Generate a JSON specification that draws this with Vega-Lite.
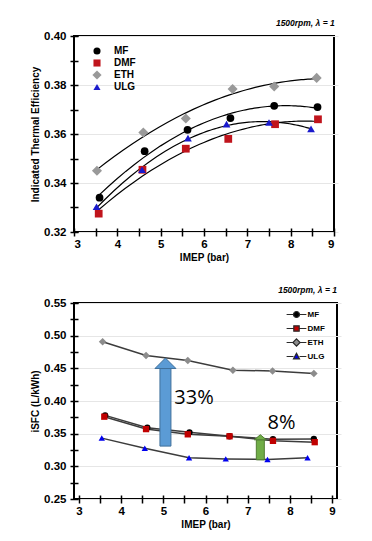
{
  "$schema": "https://vega.github.io/schema/vega-lite/v6.json",
  "padding": {"left": 29, "top": 17, "right": 5, "bottom": 5},
  "spacing": 20,
  "background": "white",
  "config": {
    "font": "Liberation Sans",
    "view": {"stroke": "black", "strokeWidth": 2},
    "axis": {"domain": false, "ticks": true, "tickColor": "black", "tickWidth": 1.5, "tickSize": 8, "offset": -4,
      "labelFont": "Liberation Sans", "labelFontWeight": "bold", "labelFontSize": 11.5, "labelColor": "black",
      "titleFont": "Liberation Sans", "titleFontWeight": "bold", "titleFontSize": 10, "titleColor": "black",
      "gridColor": "#e6e6e6", "gridWidth": 1, "labelOverlap": false},
    "title": {"fontSize": 8.5, "fontStyle": "italic", "fontWeight": "bold", "anchor": "end", "offset": 3, "color": "black", "font": "Liberation Sans"},
    "legend": {"labelFontWeight": "bold", "labelColor": "black", "labelFont": "Liberation Sans", "padding": 0}
  },
  "resolve": {
    "scale": {"color": "independent", "shape": "independent", "fill": "independent", "stroke": "independent"},
    "legend": {"color": "independent", "shape": "independent", "fill": "independent", "stroke": "independent"}
  },
  "vconcat": [
    {
      "width": 260, "height": 196,
      "title": "1500rpm, λ = 1",
      "data": {"values": [
        {"fuel": "MF", "x": 3.59, "y": 0.334}, {"fuel": "MF", "x": 4.63, "y": 0.353}, {"fuel": "MF", "x": 5.62, "y": 0.3617},
        {"fuel": "MF", "x": 6.61, "y": 0.3665}, {"fuel": "MF", "x": 7.62, "y": 0.3715}, {"fuel": "MF", "x": 8.62, "y": 0.371},
        {"fuel": "DMF", "x": 3.57, "y": 0.3275}, {"fuel": "DMF", "x": 4.58, "y": 0.3454}, {"fuel": "DMF", "x": 5.58, "y": 0.354},
        {"fuel": "DMF", "x": 6.56, "y": 0.358}, {"fuel": "DMF", "x": 7.64, "y": 0.364}, {"fuel": "DMF", "x": 8.63, "y": 0.366},
        {"fuel": "ETH", "x": 3.53, "y": 0.345}, {"fuel": "ETH", "x": 4.6, "y": 0.3606}, {"fuel": "ETH", "x": 5.58, "y": 0.3663},
        {"fuel": "ETH", "x": 6.66, "y": 0.3784}, {"fuel": "ETH", "x": 7.62, "y": 0.3794}, {"fuel": "ETH", "x": 8.6, "y": 0.3829},
        {"fuel": "ULG", "x": 3.52, "y": 0.3303}, {"fuel": "ULG", "x": 4.57, "y": 0.3454}, {"fuel": "ULG", "x": 5.63, "y": 0.3583},
        {"fuel": "ULG", "x": 6.52, "y": 0.364}, {"fuel": "ULG", "x": 7.5, "y": 0.3647}, {"fuel": "ULG", "x": 8.47, "y": 0.3621}
      ]},
      "encoding": {
        "x": {"field": "x", "type": "quantitative", "title": "IMEP (bar)",
          "scale": {"domain": [3, 9], "nice": false, "zero": false},
          "axis": {"values": [3, 3.5, 4, 4.5, 5, 5.5, 6, 6.5, 7, 7.5, 8, 8.5, 9], "tickCount": 50,
            "labelExpr": "datum.value % 1 == 0 ? format(datum.value, 'd') : ''",
            "labelPadding": 2, "titlePadding": 3, "grid": false}},
        "y": {"field": "y", "type": "quantitative", "title": "Indicated Thermal Efficiency",
          "scale": {"domain": [0.32, 0.4], "nice": false, "zero": false},
          "axis": {"values": [0.32, 0.33, 0.34, 0.35, 0.36, 0.37, 0.38, 0.39, 0.4], "tickCount": 50,
            "labelExpr": "abs(datum.value*50 - round(datum.value*50)) < 0.01 ? format(datum.value, '.2f') : ''",
            "gridOpacity": {"condition": {"test": "abs(datum.value*50 - round(datum.value*50)) < 0.01", "value": 1}, "value": 0},
            "grid": true, "labelPadding": 4, "titlePadding": 3}}
      },
      "layer": [
        {
          "transform": [{"regression": "y", "on": "x", "groupby": ["fuel"], "method": "poly", "order": 2}],
          "mark": {"type": "line", "color": "black", "strokeWidth": 1.2},
          "encoding": {"detail": {"field": "fuel"}}
        },
        {
          "mark": {"type": "point", "filled": true, "opacity": 1, "size": 60},
          "encoding": {
            "color": {"field": "fuel", "type": "nominal",
              "scale": {"domain": ["MF", "DMF", "ETH", "ULG"], "range": ["#000000", "#c0141c", "#999999", "#1a1acc"]},
              "legend": {"orient": "none", "legendX": 18, "legendY": 10, "title": null, "labelFontSize": 10, "symbolSize": 50, "rowPadding": 2, "labelOffset": 12}},
            "shape": {"field": "fuel", "type": "nominal",
              "scale": {"domain": ["MF", "DMF", "ETH", "ULG"], "range": ["circle", "square", "M-1.3,0L0,-1.3L1.3,0L0,1.3Z", "triangle-up"]},
              "legend": {"orient": "none", "legendX": 18, "legendY": 10, "title": null, "labelFontSize": 10, "symbolSize": 50, "rowPadding": 2, "labelOffset": 12}}
          }
        }
      ]
    },
    {
      "width": 263, "height": 196,
      "title": "1500rpm, λ = 1",
      "layer": [
        {
          "data": {"name": "isfc", "values": [
            {"fuel": "MF", "x": 3.62, "y": 0.378}, {"fuel": "MF", "x": 4.62, "y": 0.359}, {"fuel": "MF", "x": 5.62, "y": 0.352},
            {"fuel": "MF", "x": 6.57, "y": 0.346}, {"fuel": "MF", "x": 7.6, "y": 0.3416}, {"fuel": "MF", "x": 8.57, "y": 0.342},
            {"fuel": "DMF", "x": 3.6, "y": 0.376}, {"fuel": "DMF", "x": 4.59, "y": 0.357}, {"fuel": "DMF", "x": 5.58, "y": 0.349},
            {"fuel": "DMF", "x": 6.57, "y": 0.346}, {"fuel": "DMF", "x": 7.6, "y": 0.339}, {"fuel": "DMF", "x": 8.59, "y": 0.337},
            {"fuel": "ETH", "x": 3.56, "y": 0.4906}, {"fuel": "ETH", "x": 4.59, "y": 0.4696}, {"fuel": "ETH", "x": 5.58, "y": 0.4619},
            {"fuel": "ETH", "x": 6.65, "y": 0.4471}, {"fuel": "ETH", "x": 7.59, "y": 0.446}, {"fuel": "ETH", "x": 8.57, "y": 0.442},
            {"fuel": "ULG", "x": 3.54, "y": 0.3432}, {"fuel": "ULG", "x": 4.56, "y": 0.3278}, {"fuel": "ULG", "x": 5.61, "y": 0.313},
            {"fuel": "ULG", "x": 6.48, "y": 0.3114}, {"fuel": "ULG", "x": 7.47, "y": 0.3104}, {"fuel": "ULG", "x": 8.42, "y": 0.313}
          ]},
          "mark": {"type": "line", "strokeWidth": 1.5, "color": "#3c3c3c"},
          "encoding": {
            "x": {"field": "x", "type": "quantitative", "title": "IMEP (bar)",
              "scale": {"domain": [3, 9], "nice": false, "zero": false},
              "axis": {"values": [3, 3.5, 4, 4.5, 5, 5.5, 6, 6.5, 7, 7.5, 8, 8.5, 9], "tickCount": 50,
                "labelExpr": "datum.value % 1 == 0 ? format(datum.value, 'd') : ''",
                "labelPadding": 2, "titlePadding": 3, "grid": false}},
            "y": {"field": "y", "type": "quantitative", "title": "iSFC (L/kWh)",
              "scale": {"domain": [0.25, 0.55], "nice": false, "zero": false},
              "axis": {"values": [0.25, 0.275, 0.3, 0.325, 0.35, 0.375, 0.4, 0.425, 0.45, 0.475, 0.5, 0.525, 0.55], "tickCount": 50,
                "labelExpr": "abs(datum.value*20 - round(datum.value*20)) < 0.01 ? format(datum.value, '.2f') : ''",
                "gridOpacity": {"condition": {"test": "abs(datum.value*20 - round(datum.value*20)) < 0.01", "value": 1}, "value": 0},
                "grid": true, "labelPadding": 4, "titlePadding": 3}},
            "detail": {"field": "fuel"}
          }
        },
        {
          "data": {"name": "isfc"},
          "mark": {"type": "point", "filled": true, "opacity": 1, "size": 40},
          "encoding": {
            "x": {"field": "x", "type": "quantitative", "title": "IMEP (bar)"},
            "y": {"field": "y", "type": "quantitative", "title": "iSFC (L/kWh)"},
            "fill": {"field": "fuel", "type": "nominal",
              "scale": {"domain": ["MF", "DMF", "ETH", "ULG"], "range": ["#000000", "#c00000", "#8c8c8c", "#0000ee"]},
              "legend": {"orient": "none", "legendX": 218.5, "legendY": 7.5, "title": null, "symbolSize": 36, "labelFontSize": 8, "rowPadding": 2, "labelOffset": 7,
                "symbolType": {"expr": "datum.value == 'MF' ? 'M-3.3,0L-1,0M1,0L3.3,0M-1,0A1,1,0,1,1,1,0A1,1,0,1,1,-1,0Z' : datum.value == 'DMF' ? 'M-3.3,0L-0.9,0M0.9,0L3.3,0M-0.9,-0.9L0.9,-0.9L0.9,0.9L-0.9,0.9Z' : datum.value == 'ETH' ? 'M-3.3,0L-1.2,0M1.2,0L3.3,0M0,-1.2L1.2,0L0,1.2L-1.2,0Z' : 'M-3.3,0L-1,0M1,0L3.3,0M0,-1.05L1,0.8L-1,0.8Z'"},
                "symbolStrokeColor": "#2a2a2a", "symbolStrokeWidth": 1.2}},
            "shape": {"field": "fuel", "type": "nominal",
              "scale": {"domain": ["DMF", "ETH", "MF", "ULG"], "range": ["square", "M-1.2,0L0,-1.2L1.2,0L0,1.2Z", "circle", "triangle-up"]},
              "legend": null}
          }
        },
        {
          "data": {"name": "notes", "values": [
            {"label": "33%", "x": 5.05, "ybase": 0.331, "yhead": 0.4497, "tx": 5.26, "ty": 0.404},
            {"label": "8%", "x": 7.3, "ybase": 0.31, "yhead": 0.3406, "tx": 7.47, "ty": 0.367}
          ]},
          "transform": [{"filter": "datum.label == '33%'"}],
          "mark": {"type": "bar", "width": 11, "fill": "#5b9bd5", "stroke": "#41719c", "strokeWidth": 1},
          "encoding": {
            "x": {"field": "x", "type": "quantitative", "title": "IMEP (bar)"},
            "y": {"field": "ybase", "type": "quantitative", "title": "iSFC (L/kWh)"},
            "y2": {"field": "yhead"}
          }
        },
        {
          "data": {"name": "notes"},
          "transform": [{"filter": "datum.label == '33%'"}],
          "mark": {"type": "point", "shape": "M-1,0L1,0L0,-1Z", "size": 441, "filled": true, "fill": "#5b9bd5", "stroke": "#41719c", "strokeWidth": 1, "opacity": 1},
          "encoding": {
            "x": {"field": "x", "type": "quantitative", "title": "IMEP (bar)"},
            "y": {"field": "yhead", "type": "quantitative", "title": "iSFC (L/kWh)"}
          }
        },
        {
          "data": {"name": "notes"},
          "transform": [{"filter": "datum.label == '8%'"}],
          "mark": {"type": "bar", "width": 8, "fill": "#70ad47", "stroke": "#507e32", "strokeWidth": 1},
          "encoding": {
            "x": {"field": "x", "type": "quantitative", "title": "IMEP (bar)"},
            "y": {"field": "ybase", "type": "quantitative", "title": "iSFC (L/kWh)"},
            "y2": {"field": "yhead"}
          }
        },
        {
          "data": {"name": "notes"},
          "transform": [{"filter": "datum.label == '8%'"}],
          "mark": {"type": "point", "shape": "M-1,0L1,0L0,-0.85Z", "size": 144, "filled": true, "fill": "#70ad47", "stroke": "#507e32", "strokeWidth": 1, "opacity": 1},
          "encoding": {
            "x": {"field": "x", "type": "quantitative", "title": "IMEP (bar)"},
            "y": {"field": "yhead", "type": "quantitative", "title": "iSFC (L/kWh)"}
          }
        },
        {
          "data": {"name": "notes"},
          "mark": {"type": "text", "font": "Open Sans", "fontSize": 20, "align": "left", "baseline": "middle", "color": "black"},
          "encoding": {
            "x": {"field": "tx", "type": "quantitative", "title": "IMEP (bar)"},
            "y": {"field": "ty", "type": "quantitative", "title": "iSFC (L/kWh)"},
            "text": {"field": "label"}
          }
        }
      ]
    }
  ]
}
